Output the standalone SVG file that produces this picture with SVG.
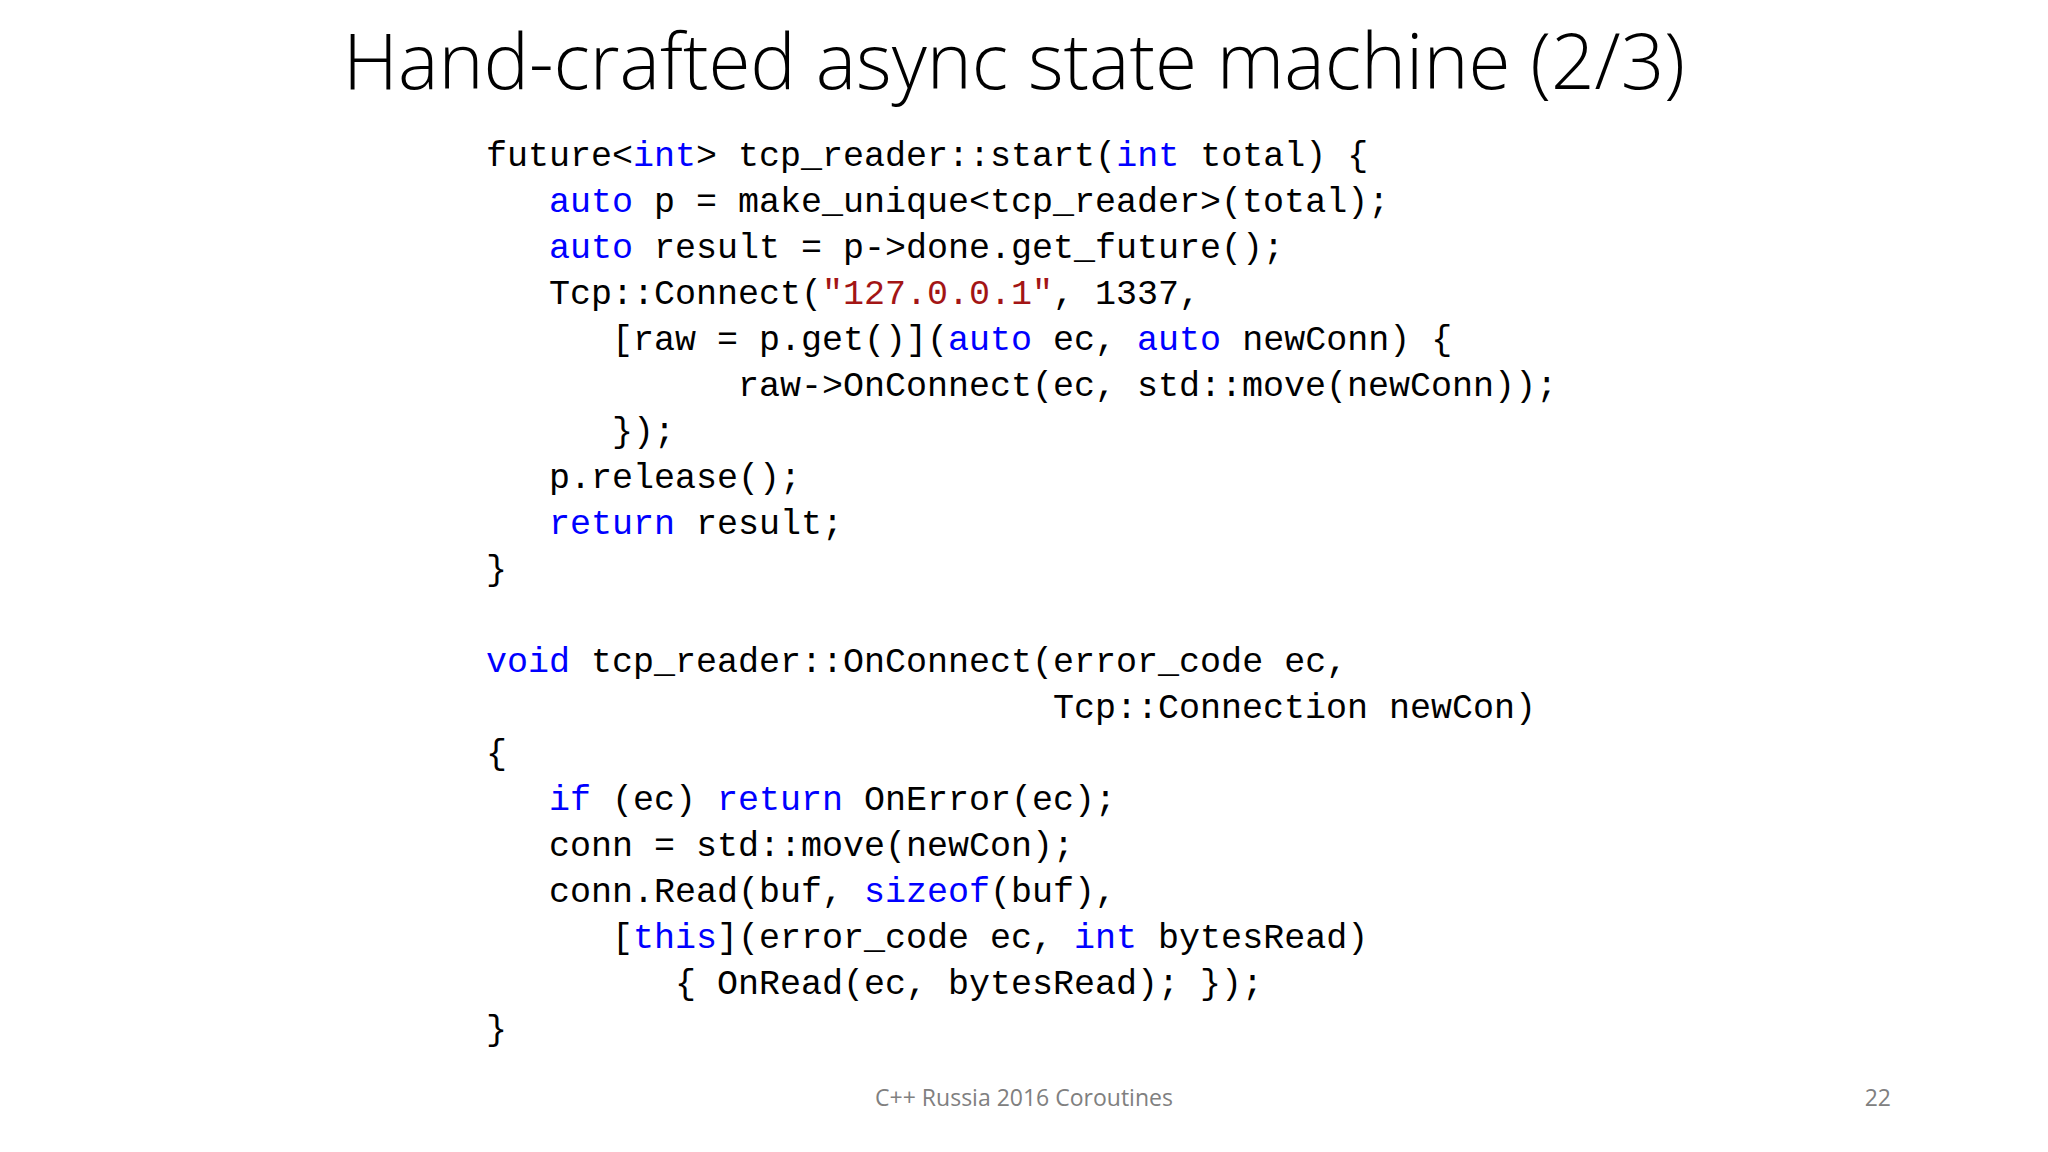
<svg xmlns="http://www.w3.org/2000/svg" width="2048" height="1152" viewBox="0 0 2048 1152">
<style>
.c{font-family:"Liberation Mono","DejaVu Sans Mono",monospace;font-size:35px;fill:#000}
.k{fill:#0000FF}.s{fill:#A31515}
.f{font-family:"Open Sans","Liberation Sans",sans-serif;font-size:23px;fill:#808080}
</style>
<rect width="2048" height="1152" fill="#fff"/>
<text x="1014" y="89" text-anchor="middle" font-family="Open Sans, Liberation Sans, sans-serif" font-weight="300" font-size="78" textLength="1342" lengthAdjust="spacingAndGlyphs" fill="#000">Hand-crafted async state machine (2/3)</text>
<g id="code" class="c" xml:space="preserve">
<text x="486" y="166">future&lt;<tspan class="k">int</tspan>&gt; tcp_reader::start(<tspan class="k">int</tspan> total) {</text>
<text x="549" y="212"><tspan class="k">auto</tspan> p = make_unique&lt;tcp_reader&gt;(total);</text>
<text x="549" y="258"><tspan class="k">auto</tspan> result = p-&gt;done.get_future();</text>
<text x="549" y="304">Tcp::Connect(<tspan class="s">"127.0.0.1"</tspan>, 1337,</text>
<text x="612" y="350">[raw = p.get()](<tspan class="k">auto</tspan> ec, <tspan class="k">auto</tspan> newConn) {</text>
<text x="738" y="396">raw-&gt;OnConnect(ec, std::move(newConn));</text>
<text x="612" y="442">});</text>
<text x="549" y="488">p.release();</text>
<text x="549" y="534"><tspan class="k">return</tspan> result;</text>
<text x="486" y="580">}</text>
<text x="486" y="672"><tspan class="k">void</tspan> tcp_reader::OnConnect(error_code ec,</text>
<text x="1053" y="718">Tcp::Connection newCon)</text>
<text x="486" y="764">{</text>
<text x="549" y="810"><tspan class="k">if</tspan> (ec) <tspan class="k">return</tspan> OnError(ec);</text>
<text x="549" y="856">conn = std::move(newCon);</text>
<text x="549" y="902">conn.Read(buf, <tspan class="k">sizeof</tspan>(buf),</text>
<text x="612" y="948">[<tspan class="k">this</tspan>](error_code ec, <tspan class="k">int</tspan> bytesRead)</text>
<text x="675" y="994">{ OnRead(ec, bytesRead); });</text>
<text x="486" y="1040">}</text>
</g>
<text class="f" x="1024" y="1106" text-anchor="middle">C++ Russia 2016 Coroutines</text>
<text class="f" x="1891" y="1106" text-anchor="end">22</text>
</svg>
